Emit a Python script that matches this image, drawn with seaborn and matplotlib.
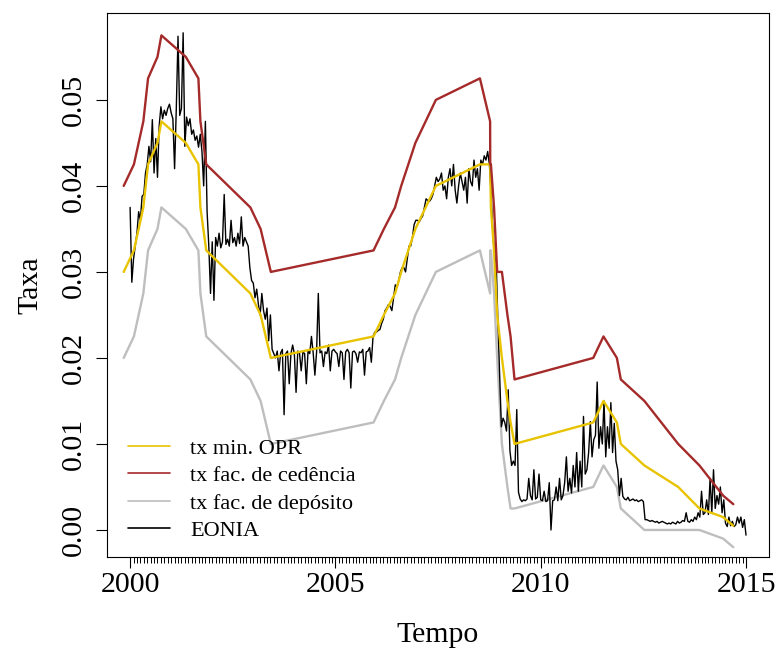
import numpy as np
import pandas as pd
import matplotlib
matplotlib.use("Agg")
import matplotlib.pyplot as plt
import seaborn as sns
from matplotlib.ticker import FixedLocator
from matplotlib.lines import Line2D

# ---------------- data ----------------
rate_dates = ["1999-11-05", "2000-02-04", "2000-03-17", "2000-04-28", "2000-06-09",
              "2000-09-01", "2000-10-06", "2001-05-11", "2001-08-31", "2001-09-18",
              "2001-11-09", "2002-12-06", "2003-03-07", "2003-06-06", "2005-12-06",
              "2006-03-08", "2006-06-15", "2006-08-09", "2006-10-11", "2006-12-13",
              "2007-03-14", "2007-06-13", "2008-07-09", "2008-10-08", "2008-10-09",
              "2008-10-15", "2008-11-12", "2008-12-10", "2009-01-21", "2009-03-11",
              "2009-04-08", "2009-05-13", "2011-04-13", "2011-07-13", "2011-11-09",
              "2011-12-14", "2012-07-11", "2013-05-08", "2013-11-13", "2014-06-11",
              "2014-09-10"]
tx_min_opr = [0.0300, 0.0325, 0.0350, 0.0375, 0.0425, 0.0450, 0.0475, 0.0450, 0.0425, 0.0375,
              0.0325, 0.0275, 0.0250, 0.0200, 0.0225, 0.0250, 0.0275, 0.0300, 0.0325, 0.0350,
              0.0375, 0.0400, 0.0425, 0.0425, 0.0425, 0.0375, 0.0325, 0.0250, 0.0200, 0.0150,
              0.0125, 0.0100, 0.0125, 0.0150, 0.0125, 0.0100, 0.0075, 0.0050, 0.0025, 0.0015,
              0.0005]
tx_fac_cedencia = [0.0400, 0.0425, 0.0450, 0.0475, 0.0525, 0.0550, 0.0575, 0.0550, 0.0525, 0.0475,
                   0.0425, 0.0375, 0.0350, 0.0300, 0.0325, 0.0350, 0.0375, 0.0400, 0.0425, 0.0450,
                   0.0475, 0.0500, 0.0525, 0.0475, 0.0425, 0.0425, 0.0375, 0.0300, 0.0300, 0.0250,
                   0.0225, 0.0175, 0.0200, 0.0225, 0.0200, 0.0175, 0.0150, 0.0100, 0.0075, 0.0040,
                   0.0030]
tx_fac_deposito = [0.0200, 0.0225, 0.0250, 0.0275, 0.0325, 0.0350, 0.0375, 0.0350, 0.0325, 0.0275,
                   0.0225, 0.0175, 0.0150, 0.0100, 0.0125, 0.0150, 0.0175, 0.0200, 0.0225, 0.0250,
                   0.0275, 0.0300, 0.0325, 0.0275, 0.0325, 0.0325, 0.0275, 0.0200, 0.0100, 0.0050,
                   0.0025, 0.0025, 0.0050, 0.0075, 0.0050, 0.0025, 0.0000, 0.0000, 0.0000, -0.0010,
                   -0.0020]

# EONIA, two readings per month from January 2000
eonia_start = 2000.0
eonia_per_year = 24
eonia = [
    # 2000
    0.0375, 0.0288, 0.0315, 0.0330, 0.0345, 0.0370, 0.0360, 0.0388, 0.0390, 0.0415, 0.0425, 0.0446,
    0.0428, 0.0477, 0.0415, 0.0455, 0.0410, 0.0470, 0.0492, 0.0478, 0.0488, 0.0482, 0.0490, 0.0495,
    # 2001
    0.0485, 0.0478, 0.0420, 0.0490, 0.0574, 0.0482, 0.0490, 0.0578, 0.0446, 0.0480, 0.0470, 0.0478,
    0.0460, 0.0465, 0.0453, 0.0458, 0.0445, 0.0460, 0.0440, 0.0400, 0.0475, 0.0370, 0.0330, 0.0275,
    # 2002
    0.0335, 0.0267, 0.0340, 0.0330, 0.0345, 0.0328, 0.0335, 0.0390, 0.0332, 0.0338, 0.0330, 0.0360,
    0.0334, 0.0340, 0.0330, 0.0345, 0.0333, 0.0364, 0.0330, 0.0340, 0.0335, 0.0330, 0.0305, 0.0290,
    # 2003
    0.0287, 0.0270, 0.0280, 0.0262, 0.0250, 0.0275, 0.0255, 0.0245, 0.0258, 0.0220, 0.0250, 0.0210,
    0.0205, 0.0200, 0.0208, 0.0185, 0.0206, 0.0210, 0.0134, 0.0205, 0.0208, 0.0170, 0.0205, 0.0215,
    # 2004
    0.0205, 0.0160, 0.0208, 0.0206, 0.0185, 0.0207, 0.0205, 0.0170, 0.0208, 0.0205, 0.0225, 0.0206,
    0.0180, 0.0207, 0.0275, 0.0206, 0.0208, 0.0190, 0.0207, 0.0205, 0.0215, 0.0185, 0.0208, 0.0210,
    # 2005
    0.0207, 0.0205, 0.0190, 0.0208, 0.0206, 0.0175, 0.0207, 0.0210, 0.0206, 0.0165, 0.0207, 0.0208,
    0.0205, 0.0195, 0.0207, 0.0206, 0.0210, 0.0180, 0.0207, 0.0208, 0.0212, 0.0195, 0.0225, 0.0230,
    # 2006
    0.0230, 0.0232, 0.0233, 0.0240, 0.0245, 0.0255, 0.0258, 0.0262, 0.0260, 0.0255, 0.0270, 0.0285,
    0.0282, 0.0290, 0.0300, 0.0305, 0.0305, 0.0300, 0.0315, 0.0330, 0.0330, 0.0340, 0.0355, 0.0360,
    # 2007
    0.0360, 0.0358, 0.0362, 0.0365, 0.0375, 0.0385, 0.0383, 0.0382, 0.0385, 0.0390, 0.0400, 0.0410,
    0.0405, 0.0408, 0.0415, 0.0395, 0.0400, 0.0385, 0.0410, 0.0420, 0.0400, 0.0425, 0.0395, 0.0380,
    # 2008
    0.0400, 0.0415, 0.0405, 0.0395, 0.0410, 0.0380, 0.0420, 0.0405, 0.0400, 0.0430, 0.0410, 0.0420,
    0.0395, 0.0430, 0.0425, 0.0435, 0.0430, 0.0440, 0.0425, 0.0390, 0.0345, 0.0320, 0.0310, 0.0240,
    # 2009
    0.0180, 0.0120, 0.0130, 0.0125, 0.0115, 0.0163, 0.0092, 0.0075, 0.0080, 0.0075, 0.0140, 0.0044,
    0.0036, 0.0033, 0.0035, 0.0034, 0.0036, 0.0060, 0.0040, 0.0035, 0.0070, 0.0036, 0.0038, 0.0065,
    # 2010
    0.0035, 0.0034, 0.0045, 0.0033, 0.0034, 0.0055, 0.0000, 0.0034, 0.0035, 0.0050, 0.0034, 0.0060,
    0.0035, 0.0040, 0.0055, 0.0085, 0.0045, 0.0060, 0.0043, 0.0075, 0.0050, 0.0090, 0.0045, 0.0080,
    # 2011
    0.0050, 0.0132, 0.0065, 0.0070, 0.0090, 0.0126, 0.0085, 0.0105, 0.0110, 0.0172, 0.0095, 0.0120,
    0.0100, 0.0150, 0.0085, 0.0120, 0.0095, 0.0148, 0.0090, 0.0124, 0.0080, 0.0070, 0.0040, 0.0060,
    # 2012
    0.0039, 0.0036, 0.0035, 0.0038, 0.0034, 0.0035, 0.0036, 0.0034, 0.0035, 0.0033, 0.0034, 0.0035,
    0.0033, 0.0012, 0.0012, 0.0011, 0.0010, 0.0011, 0.0010, 0.0009, 0.0010, 0.0008, 0.0009, 0.0010,
    # 2013
    0.0009, 0.0008, 0.0007, 0.0008, 0.0007, 0.0009, 0.0008, 0.0007, 0.0010, 0.0008, 0.0009, 0.0011,
    0.0010, 0.0020, 0.0010, 0.0009, 0.0012, 0.0010, 0.0015, 0.0012, 0.0020, 0.0015, 0.0045, 0.0018,
    # 2014
    0.0020, 0.0035, 0.0018, 0.0060, 0.0020, 0.0070, 0.0025, 0.0040, 0.0030, 0.0050, 0.0020, 0.0035,
    0.0008, 0.0004, 0.0015, 0.0005, 0.0010, 0.0004, 0.0006, 0.0015, 0.0008, 0.0015, 0.0003, 0.0012,
    # 2015
    -0.0006,
]

legend_labels = ["tx min. OPR", "tx fac. de cedência", "tx fac. de depósito", "EONIA"]
x_major = [2000, 2005, 2010, 2015]
y_major = [0.00, 0.01, 0.02, 0.03, 0.04, 0.05]
y_labels = ["0.00", "0.01", "0.02", "0.03", "0.04", "0.05"]

# ---------------- helpers ----------------
def to_year(s):
    d = pd.to_datetime(s)
    start = pd.Timestamp(year=d.year, month=1, day=1)
    end = pd.Timestamp(year=d.year + 1, month=1, day=1)
    return d.year + (d - start) / (end - start)

rate_x = [to_year(s) for s in rate_dates]
eonia_x = eonia_start + np.arange(len(eonia)) / eonia_per_year

rates = pd.DataFrame({"t": rate_x, "opr": tx_min_opr, "ced": tx_fac_cedencia, "dep": tx_fac_deposito})
eon = pd.DataFrame({"t": eonia_x, "v": eonia})

# ---------------- style ----------------
sns.set_style("ticks", {"axes.edgecolor": "black", "xtick.color": "black", "ytick.color": "black",
                        "text.color": "black", "axes.labelcolor": "black",
                        "xtick.bottom": True, "ytick.left": True})
plt.rcParams["font.family"] = ["Liberation Serif", "DejaVu Serif"]
plt.rcParams.update({
    "axes.linewidth": 0.8,
    "xtick.major.size": 8, "xtick.minor.size": 4.3,
    "ytick.major.size": 8,
    "xtick.major.width": 0.8, "xtick.minor.width": 0.7, "ytick.major.width": 0.8,
    "xtick.direction": "out", "ytick.direction": "out",
})

fig = plt.figure(figsize=(7.76, 6.5), dpi=100)
ax = fig.add_axes([0.1375, 0.1431, 0.8535, 0.8369])

c_opr = "#E8C300"
c_ced = "#A52A2A"
c_dep = "#BEBEBE"
c_eon = "#000000"

sns.lineplot(data=rates, x="t", y="dep", ax=ax, color=c_dep, lw=1.7, estimator=None, sort=False)
sns.lineplot(data=eon, x="t", y="v", ax=ax, color=c_eon, lw=1.0, estimator=None, sort=False)
sns.lineplot(data=rates, x="t", y="opr", ax=ax, color=c_opr, lw=1.7, estimator=None, sort=False)
sns.lineplot(data=rates, x="t", y="ced", ax=ax, color=c_ced, lw=1.7, estimator=None, sort=False)

ax.set_xlim(1999.43, 2015.56)
ax.set_ylim(-0.00314, 0.0601)

ax.xaxis.set_major_locator(FixedLocator(x_major))
ax.xaxis.set_minor_locator(FixedLocator(2000 + np.arange(1, 180) / 12))
ax.set_xticklabels([str(v) for v in x_major])
ax.yaxis.set_major_locator(FixedLocator(y_major))
ax.set_yticklabels(y_labels)

ax.tick_params(axis="x", which="major", length=8, width=0.8, pad=3, labelsize=21.5,
               color="black", labelcolor="black", bottom=True)
ax.tick_params(axis="x", which="minor", length=4.3, width=0.7, color="black", bottom=True)
ax.tick_params(axis="y", which="major", length=8, width=0.8, pad=6, labelsize=21.5,
               color="black", labelcolor="black", left=True)
for lab in ax.get_yticklabels():
    lab.set_rotation(90)
    lab.set_va("center")

for sp in ax.spines.values():
    sp.set_visible(True)
    sp.set_color("black")
    sp.set_linewidth(0.8)

ax.set_xlabel("Tempo", fontsize=21.5, labelpad=17, color="black")
ax.set_ylabel("Taxa", fontsize=21.5, labelpad=13, color="black")

handles = [Line2D([], [], color=c_opr, lw=1.2), Line2D([], [], color=c_ced, lw=1.2),
           Line2D([], [], color=c_dep, lw=1.2), Line2D([], [], color=c_eon, lw=1.2)]
ax.legend(handles, legend_labels, loc="lower left", bbox_to_anchor=(0.032, 0.0294),
          frameon=False, fontsize=16, handlelength=1.9, handletextpad=0.9, labelspacing=0.31,
          borderpad=0, borderaxespad=0)

fig.savefig("out.png", dpi=100, facecolor="white")
